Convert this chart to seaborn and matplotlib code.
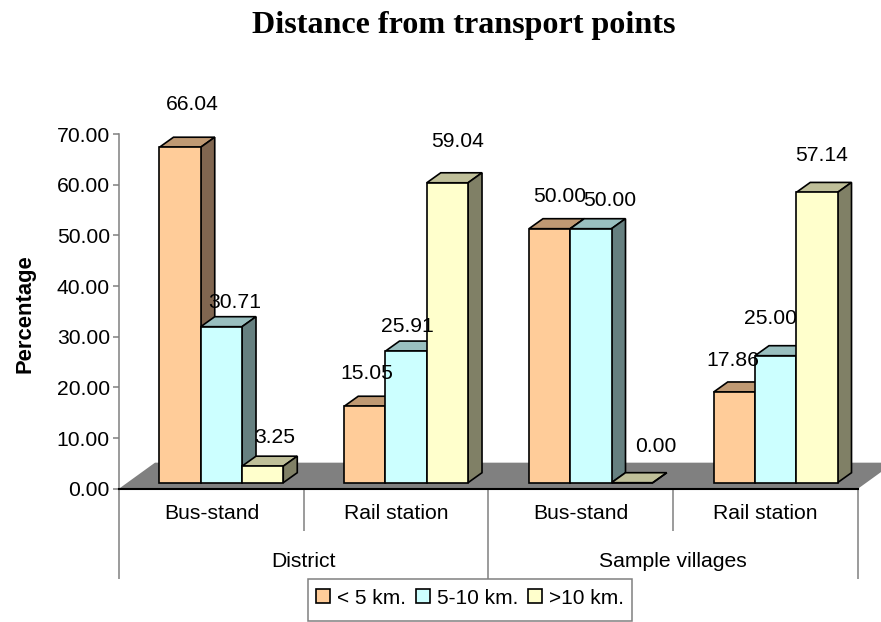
# Distance from transport points - excel style 3D bars
import pandas as pd
import matplotlib
matplotlib.use("Agg")
import matplotlib.pyplot as plt
from matplotlib.patches import Polygon, Rectangle
import seaborn as sns

groups = ["District", "Sample villages"]
places = ["Bus-stand", "Rail station"]
series = ["< 5 km.", "5-10 km.", ">10 km."]
under_5 = [66.04, 15.05, 50.00, 17.86]
from_5_to_10 = [30.71, 25.91, 50.00, 25.00]
over_10 = [3.25, 59.04, 0.00, 57.14]
y_ticks = [0, 10, 20, 30, 40, 50, 60, 70]

colors = ["#FFCC99", "#CCFFFF", "#FFFFCC"]
top_colors = ["#BF9973", "#99BFBF", "#BFBF99"]
side_colors = ["#806650", "#668080", "#808066"]

W, H = 881, 622
PX_X = 739 / 4        # pixels per category
PX_Y = 5.08           # pixels per percent, bars

sns.set_theme(style="white")
plt.rcParams["font.family"] = ["Liberation Sans"]
FS = 15.2

slots = [g + " " + p for g in groups for p in places]
rows = []
for name, vals in zip(series, [under_5, from_5_to_10, over_10]):
    for slot, v in zip(slots, vals):
        rows.append({"slot": slot, "series": name, "value": v})
df = pd.DataFrame(rows)


def box(left, top, right, bottom):
    return [left / W, 1 - bottom / H, (right - left) / W, (bottom - top) / H]


fig = plt.figure(figsize=(W / 100, H / 100), dpi=100)

# frame: axis lines, floor and category lines
frame = fig.add_axes(box(119, 134, 858, 488.7))
frame.set_xlim(0, 4)
frame.set_ylim(0, 70)
frame.set_yticks(y_ticks)
frame.set_yticklabels(["%.2f" % t for t in y_ticks], fontsize=FS, color="black")
frame.set_xticks([0, 2, 4])
frame.set_xticks([1, 3], minor=True)
frame.set_xticklabels([])
frame.tick_params(axis="y", left=True, length=4.5, width=1.1, color="#808080", pad=2)
frame.tick_params(axis="x", which="major", bottom=True, length=65, width=1.1, color="#808080")
frame.tick_params(axis="x", which="minor", bottom=True, length=30.5, width=1.1, color="#808080")
for s in ["top", "right"]:
    frame.spines[s].set_visible(False)
frame.spines["left"].set_color("#808080")
frame.spines["left"].set_linewidth(1.1)
frame.spines["bottom"].set_color("black")
frame.spines["bottom"].set_linewidth(1.5)

fx = 36 / PX_X
fy = 26 / 5.06
frame.add_patch(Polygon([(0, 0), (fx, fy), (4 + fx, fy), (4, 0)], closed=True,
                        facecolor="#808080", edgecolor="none", clip_on=False, zorder=0.5))

frame.set_ylabel("Percentage", fontsize=15.8, fontweight="bold", color="black")
frame.yaxis.set_label_coords((35 - 119) / 739, (488.7 - 314) / 354.7)

for i, p in enumerate(places + places):
    frame.annotate(p, xy=(i + 0.5, 0), xycoords="data", xytext=(0, -24.5), textcoords="offset pixels",
                   ha="center", va="center", fontsize=FS, color="black")
for i, g in enumerate(groups):
    frame.annotate(g, xy=(2 * i + 1, 0), xycoords="data", xytext=(0, -73), textcoords="offset pixels",
                   ha="center", va="center", fontsize=FS, color="black")

# bars, front faces come from seaborn
ax = fig.add_axes(box(129, 482.7 - 70 * PX_Y, 868, 482.7))
ax.patch.set_alpha(0)
sns.barplot(data=df, x="slot", y="value", hue="series", order=slots, hue_order=series,
            palette=colors, saturation=1, width=0.67, gap=0, edgecolor="black", linewidth=1.2,
            ax=ax)
ax.set_xlim(-0.5, 3.5)
ax.set_ylim(0, 70)
ax.axis("off")

dx = 14 / PX_X
dy = 10 / PX_Y
n_series = len(series)
bars = []
for c, cont in enumerate(ax.containers):
    for b in cont:
        bars.append((b.get_x(), c, b))
bars.sort(key=lambda t: t[0])

# label offsets in pixels from the top centre of each bar, left to right
label_off = [(12, 43), (13, 24), (12, 29),
             (2, 33), (1, 25), (10, 41),
             (10, 32), (19, 28), (24, 36),
             (-2, 31), (-5, 37), (5, 37)]

for k, (x0, c, bar) in enumerate(bars):
    x1 = x0 + bar.get_width()
    h = bar.get_height()
    z = 3 + k
    bar.set_zorder(z + 0.5)
    bar.set_clip_on(False)
    ax.add_patch(Polygon([(x0, h), (x0 + dx, h + dy), (x1 + dx, h + dy), (x1, h)], closed=True,
                         facecolor=top_colors[c], edgecolor="black", linewidth=1.2, clip_on=False, zorder=z))
    ax.add_patch(Polygon([(x1, 0), (x1 + dx, dy), (x1 + dx, h + dy), (x1, h)], closed=True,
                         facecolor=side_colors[c], edgecolor="black", linewidth=1.2, clip_on=False, zorder=z))
    ax.annotate("%.2f" % h, xy=((x0 + x1) / 2, h), xytext=label_off[k], textcoords="offset pixels",
                ha="center", va="center", fontsize=FS, color="black", zorder=50)

# legend box is taller than the legend would make it, so it gets its own frame
leg = ax.legend(loc="center", bbox_to_anchor=(470 / W, 1 - 598 / H), bbox_transform=fig.transFigure,
                ncols=3, frameon=False, fontsize=FS - 0.2, handlelength=0.68, handleheight=0.68,
                handletextpad=0.3, columnspacing=0.5, borderaxespad=0, borderpad=0, title=None)
leg.set_zorder(60)
for t in leg.get_texts():
    t.set_color("black")
fig.add_artist(Rectangle((308 / W, 1 - 621 / H), 324 / W, 42 / H, transform=fig.transFigure,
                         facecolor="none", edgecolor="#808080", linewidth=1.1))

fig.text(464 / W, 1 - 26 / H, "Distance from transport points", family="Liberation Serif",
         fontweight="bold", fontsize=23.1, ha="center", va="center", color="black")

fig.savefig("out.png", dpi=100)
